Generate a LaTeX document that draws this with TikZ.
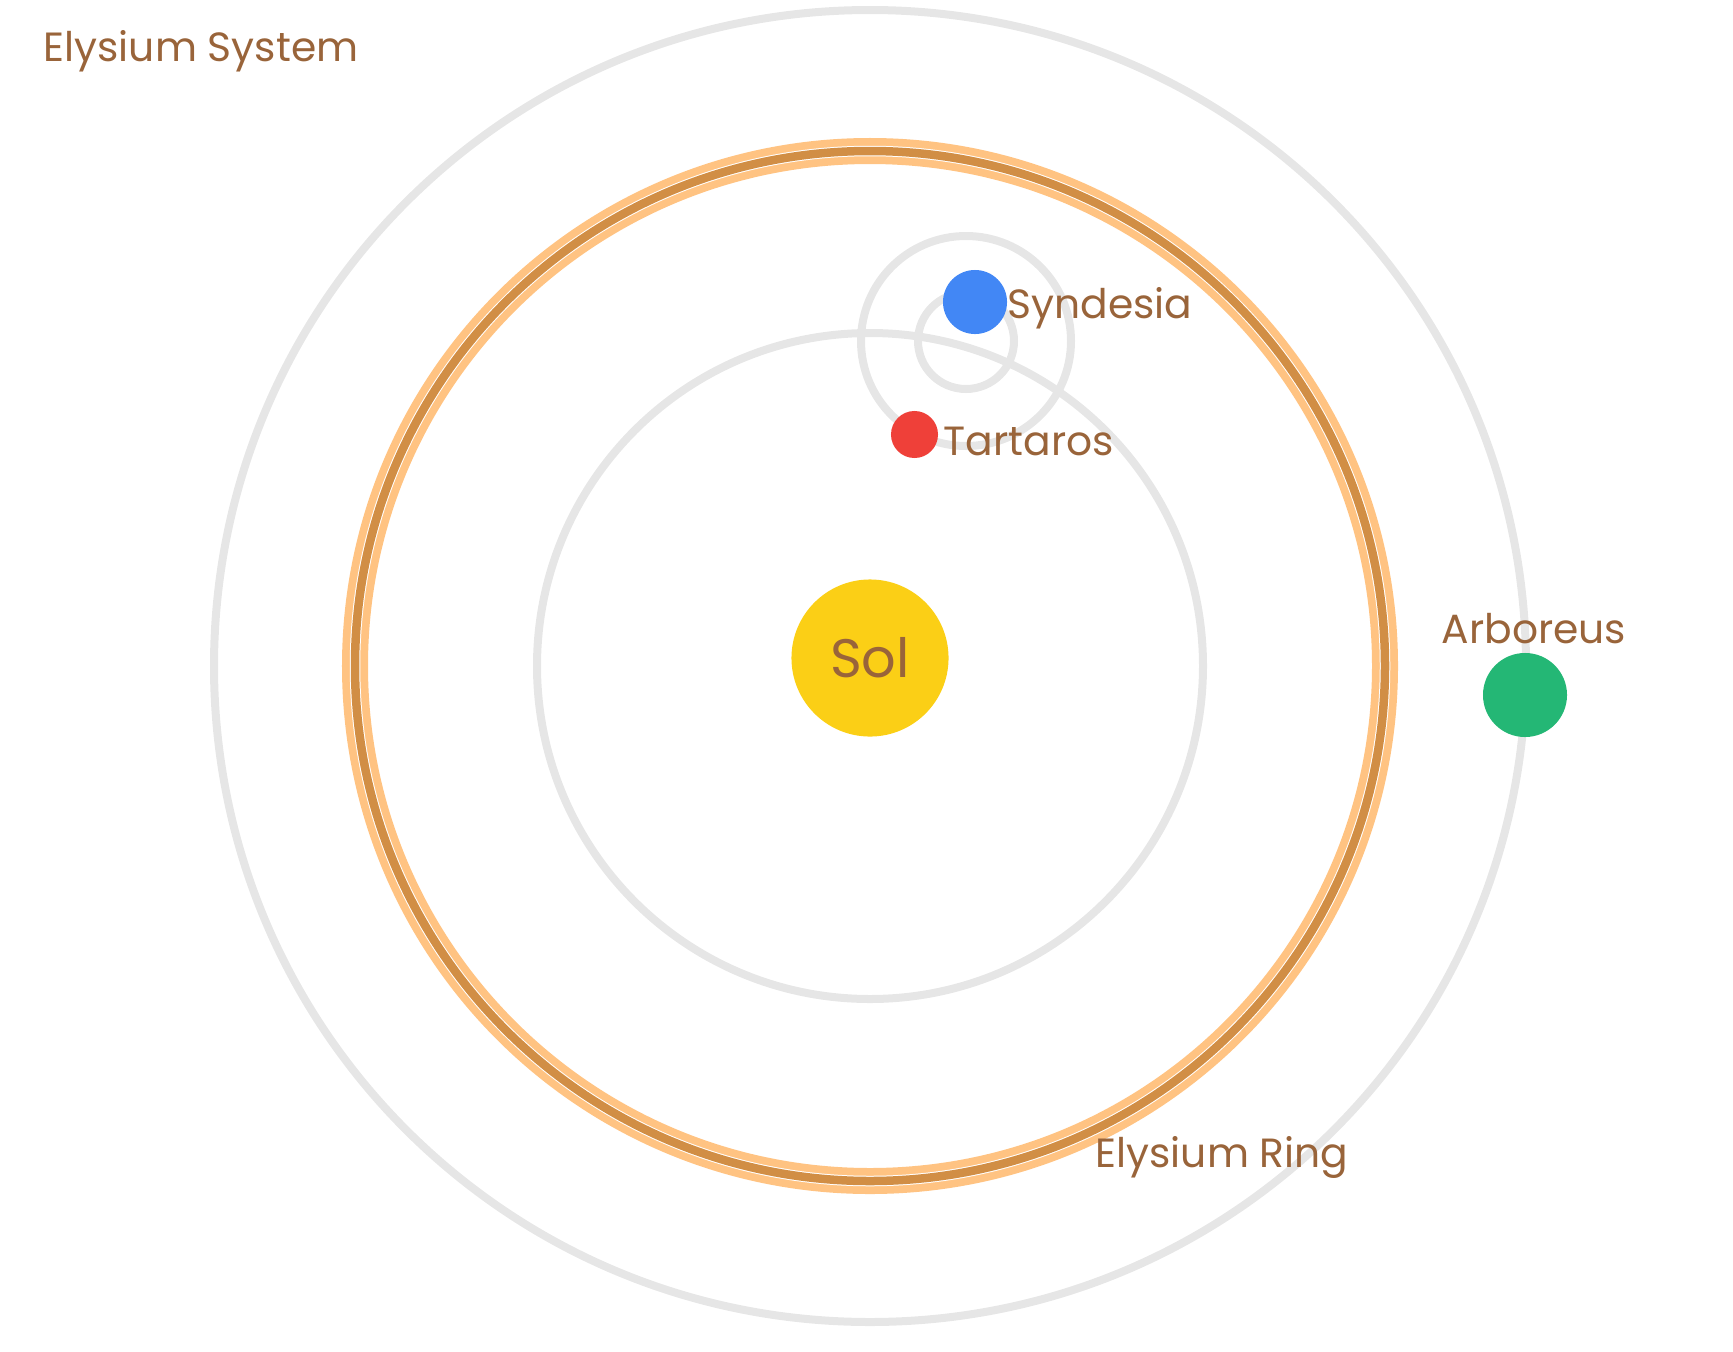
\documentclass[tikz,border=0pt]{standalone}
\usepackage{fontspec}
\setmainfont{Poppins}
\usepackage{xcolor}
\usepackage{tikz}
\usetikzlibrary{positioning}
\definecolor{orbitgrey}{HTML}{E6E6E6}
\definecolor{labelbrown}{HTML}{99643A}
\definecolor{ringlight}{HTML}{FFC382}
\definecolor{ringdark}{HTML}{D18E45}
\definecolor{solyellow}{HTML}{FBCF16}
\definecolor{synblue}{HTML}{4287F5}
\definecolor{tarred}{HTML}{EF4039}
\definecolor{arbgreen}{HTML}{24B775}
\tikzset{
  orbit/.style = {draw=orbitgrey, line width=0.08cm},
  body/.style = {circle, inner sep=0pt, draw=none},% planete
  lbl/.style = {anchor=base west, inner sep=0pt, text=labelbrown,
    font=\fontsize{11.6pt}{14pt}\selectfont}
}
\begin{document}
\begin{tikzpicture}[x=0.01cm,y=-0.01cm]
\useasboundingbox (0,0) rectangle (1733,1351);
\coordinate (center) at (870,666);
\coordinate (synbary) at (966,341);
% orbites
\draw[orbit] (center) circle[radius=656];
\draw[orbit] (center) circle[radius=333];
\draw[ringlight, line width=0.26cm] (center) circle[radius=515];
\draw[white, line width=0.105cm] (center) circle[radius=515];
\draw[ringdark, line width=0.085cm] (center) circle[radius=515];
\draw[orbit] (synbary) circle[radius=105];
\draw[orbit] (synbary) circle[radius=48];
% corps
\node[body, fill=solyellow, minimum size=1.57cm, text=labelbrown,
  font=\fontsize{15.4pt}{18pt}\selectfont] (sol) at (870,658) {Sol};
\node[body, fill=synblue, minimum size=0.64cm] (syndesia) at (975,302) {};
\node[body, fill=tarred, minimum size=0.47cm] (tartaros) at (914.5,434.5) {};
\node[body, fill=arbgreen, minimum size=0.84cm] (arboreus) at (1525,695) {};
% etiquettes
\node[lbl] (title) at (43,61) {Elysium System};
\node[lbl] (synlbl) at (1007,318) {Syndesia};
\node[lbl] (tarlbl) at (943,455) {Tartaros};
\node[lbl] (arblbl) at (1441,643) {Arboreus};
\node[lbl] (ringlbl) at (1095,1167) {Elysium Ring};
\end{tikzpicture}
\end{document}
